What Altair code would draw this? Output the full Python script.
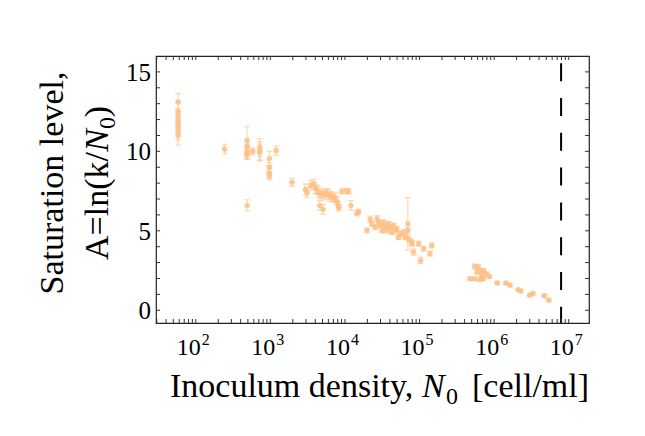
import altair as alt
import pandas as pd

# ---- data ----
N0 = [58, 58, 58, 58, 58, 58, 58, 58,
      244,
      488, 488, 488, 488, 488, 488,
      580,
      720, 720, 720,
      970, 970, 970, 970,
      1200, 1950,
      2950, 3100, 3450, 3800, 4000, 4200, 4400, 4700, 4600, 5100, 5000, 5400,
      5700, 6000, 6300, 6700, 7000, 7400, 7800, 8100, 8300, 9100, 10500, 11200,
      12000, 14500, 15200,
      19700, 21800, 23000, 25500, 27000, 28200, 29600, 31500, 32900, 34500,
      36600, 38400, 40400, 42500, 44700, 47000, 49600, 52200, 55000, 61000,
      64000, 69700, 69700, 71000, 79000, 79000, 83000, 97000, 103000, 113000,
      138000, 146000,
      475000, 550000, 550000, 590000, 610000, 646000, 650000, 680000, 720000,
      720000, 790000, 860000,
      1100000, 1440000, 1630000, 2100000, 2280000, 3000000, 3300000, 4700000,
      5400000]
A = [13.1, 12.5, 12.2, 11.95, 11.75, 11.6, 11.3, 11.0,
     10.15,
     10.65, 10.3, 10.0, 9.8, 9.9, 6.6,
     10.0,
     10.25, 10.0, 9.95,
     9.55, 9.0, 8.6, 8.45,
     10.05, 8.05,
     7.6, 7.4, 7.85, 7.95, 7.7, 7.6, 7.45, 7.3, 6.6, 6.35, 7.35, 7.25,
     7.4, 7.3, 7.15, 7.2, 7.05, 7.1, 6.85, 6.6, 6.45, 7.48, 7.5, 7.48,
     6.6, 6.1, 6.2,
     5.02, 5.72, 5.44, 5.23, 5.76, 5.54, 5.34, 5.02, 5.54, 5.29,
     5.02, 5.44, 5.23, 4.92, 5.34, 5.02, 5.13, 4.6, 4.81, 4.92,
     4.6, 5.02, 5.44, 4.5, 4.29, 4.19, 3.66, 4.19, 3.14, 3.87,
     3.56, 4.08,
     1.99, 1.99, 2.76, 2.4, 2.72, 1.93, 2.51, 2.2, 1.99,
     2.51, 2.3, 2.13,
     1.71, 1.71, 1.57, 1.3, 1.21, 0.94, 1.05, 0.92,
     0.63]
ERR = [0.55, 0.6, 0.5, 0.55, 0.6, 0.5, 0.6, 0.6,
       0.3,
       0.9, 0.5, 0.4, 0.3, 0.4, 0.35,
       0.2,
       0.55, 0.6, 0.5,
       0.45, 0.3, 0.3, 0.25,
       0.3, 0.25,
       0.35, 0.3, 0.3, 0.3, 0.35, 0.3, 0.35, 0.3, 0.3, 0.3, 0.3, 0.3,
       0.25, 0.3, 0.3, 0.25, 0.25, 0.3, 0.25, 0.25, 0.2, 0.15, 0.15, 0.15,
       0.3, 0.15, 0.15,
       0.15, 0.2, 0.15, 0.15, 0.2, 0.15, 0.15, 0.15, 0.15, 0.15,
       0.15, 0.15, 0.15, 0.15, 0.15, 0.15, 0.15, 0.15, 0.15, 0.15,
       0.15, 0.2, 1.65, 0.15, 0.2, 0.15, 0.2, 0.15, 0.2, 0.15,
       0.15, 0.15,
       0.1, 0.1, 0.15, 0.1, 0.15, 0.1, 0.1, 0.1, 0.1,
       0.1, 0.1, 0.1,
       0.08, 0.08, 0.08, 0.08, 0.08, 0.08, 0.08, 0.08,
       0.08]
CUTOFF = [7.9e6]

DECADES = [1e2, 1e3, 1e4, 1e5, 1e6, 1e7]
EXPONENTS = ["2", "3", "4", "5", "6", "7"]
X_TICKS = [m * 10 ** k for k in range(1, 8) for m in range(1, 10)
           if 29.3 <= m * 10 ** k <= 1.87e7]
Y_TICKS = list(range(0, 16))
Y_LABELS = [0, 5, 10, 15]

XDOM = [29.3, 1.87e7]
YDOM = [-0.8, 16]
W, H = 433, 267
COLOR = "#fdc086"
FONT = "Liberation Serif"
TF = 34  # title font size

df = pd.DataFrame({"N0": N0, "A": A, "err": ERR})
df["lo"] = df["A"] - df["err"]
df["hi"] = df["A"] + df["err"]

xs = alt.Scale(type="log", domain=XDOM, nice=False, zero=False)
ys = alt.Scale(domain=YDOM, nice=False, zero=False)
X = lambda f: alt.X(f, scale=xs, axis=None)
Y = lambda f: alt.Y(f, scale=ys, axis=None)

base = alt.Chart(df)

bars = base.mark_rule(color=COLOR, opacity=0.6, strokeWidth=1.2).encode(
    x=X("N0:Q"), y=Y("lo:Q"), y2="hi:Q")
caps_lo = base.mark_tick(color=COLOR, opacity=0.6, orient="horizontal",
                         size=6, thickness=1.2).encode(x=X("N0:Q"), y=Y("lo:Q"))
caps_hi = base.mark_tick(color=COLOR, opacity=0.6, orient="horizontal",
                         size=6, thickness=1.2).encode(x=X("N0:Q"), y=Y("hi:Q"))
points = base.mark_circle(size=30, color=COLOR, opacity=0.85).encode(
    x=X("N0:Q"), y=Y("A:Q"))

cut = alt.Chart(pd.DataFrame({"x": CUTOFF})).mark_rule(
    color="black", strokeWidth=2, strokeDash=[18, 16.8], strokeDashOffset=27.6).encode(
    x=X("x:Q"), y=alt.value(0), y2=alt.value(H))

xt = alt.Chart(pd.DataFrame({"x": X_TICKS}))
yt = alt.Chart(pd.DataFrame({"y": Y_TICKS}))
TC = "#333333"
xb = xt.mark_rule(color=TC, strokeWidth=1).encode(
    x=X("x:Q"), y=alt.value(H), y2=alt.value(H - 4))
xtop = xt.mark_rule(color=TC, strokeWidth=1).encode(
    x=X("x:Q"), y=alt.value(0), y2=alt.value(4))
yl = yt.mark_rule(color=TC, strokeWidth=1).encode(
    y=Y("y:Q"), x=alt.value(0), x2=alt.value(4))
yr = yt.mark_rule(color=TC, strokeWidth=1).encode(
    y=Y("y:Q"), x=alt.value(W), x2=alt.value(W - 4))

lab = alt.Chart(pd.DataFrame({"x": DECADES, "e": EXPONENTS}))
ten = lab.mark_text(font=FONT, fontSize=24, align="right", baseline="alphabetic",
                    dx=5, dy=32, color="black").encode(
    x=X("x:Q"), y=alt.value(H), text=alt.value("10"))
expo = lab.mark_text(font=FONT, fontSize=16, align="left", baseline="alphabetic",
                     dx=6, dy=22, color="black").encode(
    x=X("x:Q"), y=alt.value(H), text="e:N")

ylab = alt.Chart(pd.DataFrame({"v": Y_LABELS})).mark_text(
    font=FONT, fontSize=25, align="right", baseline="middle", dx=-5, dy=1,
    color="black").encode(y=Y("v:Q"), x=alt.value(0), text="v:Q")


def txt(s, x, y, size=TF, style="normal", align="left", angle=0):
    return alt.Chart(pd.DataFrame({"t": [s]})).mark_text(
        font=FONT, fontSize=size, fontStyle=style, align=align,
        baseline="alphabetic", angle=angle, color="black").encode(
        x=alt.value(x), y=alt.value(y), text="t:N")


# x title: "Inoculum density, N0 [cell/ml]"
XB = H + 74
xtitle = [
    txt("Inoculum density,", 14, XB),
    txt("N", 266, XB, style="italic"),
    txt("0", 290, XB + 7, size=24),
    txt("[cell/ml]", 316, XB),
]
# y title, two rotated lines, centred on the plot
L1, L2 = -93, -48
MID = 127
T2 = MID - 77
ytitle = [
    txt("Saturation level,", L1, MID, align="center", angle=270),
    txt(")", L2, T2, align="right", angle=270),
    txt("0", L2 + 7, T2 + 11, size=24, align="right", angle=270),
    txt("N", L2, T2 + 23, style="italic", align="right", angle=270),
    txt("A=ln(k/", L2, T2 + 46, align="right", angle=270),
]

chart = alt.layer(bars, caps_lo, caps_hi, points, cut, xb, xtop, yl, yr,
                  ten, expo, ylab, *xtitle, *ytitle).properties(
    width=W, height=H,
    autosize=alt.AutoSizeParams(type="none"),
    padding={"left": 148, "top": 48, "right": 40, "bottom": 100},
).configure(background="white", view=alt.ViewConfig(stroke="#222222", strokeWidth=1.2))

chart.save("out.html", embed_options={"renderer": "svg", "actions": False})
